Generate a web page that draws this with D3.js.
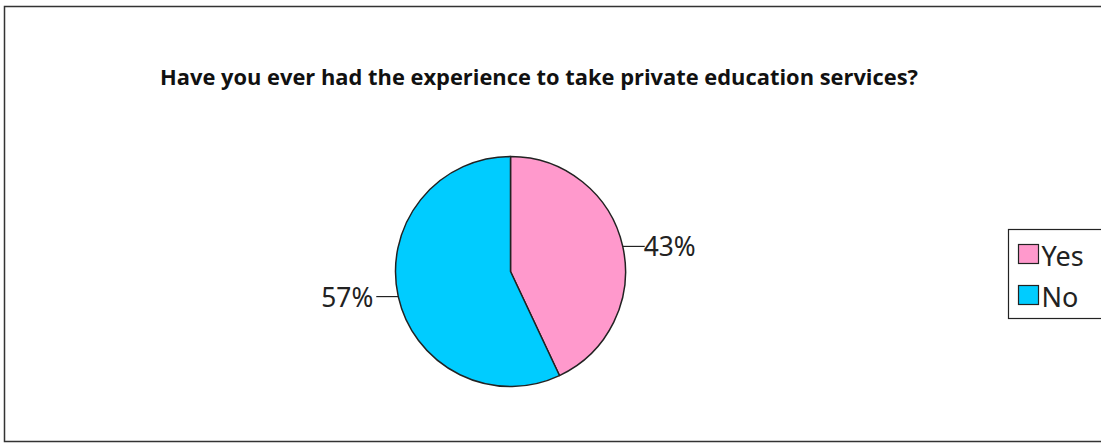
<!DOCTYPE html>
<html>
<head>
<meta charset="utf-8">
<script src="https://cdn.jsdelivr.net/npm/d3@7"></script>
<style>
  body { margin: 0; background: #fff; }
  svg { display: block; }
</style>
</head>
<body>
<div id="chart"></div>
<script>
const title = "Have you ever had the experience to take private education services?";
const categories = ["Yes", "No"];
const values = [43, 57];
const colors = ["#ff99cc", "#00ccff"];

const w = 1101, h = 443;
const cx = 510.5, cy = 271.5, r = 115;

const svg = d3.select("#chart")
    .append("svg")
    .attr("width", w)
    .attr("height", h);

// outer frame (right edge is cut off in the original)
svg.append("path")
    .attr("d", `M1105,6.5 H4.5 V441.5 H1105`)
    .attr("fill", "none")
    .attr("stroke", "#333")
    .attr("stroke-width", 1.5);

svg.append("text")
    .attr("x", 160)
    .attr("y", 85)
    .attr("font-family", "'Open Sans', sans-serif")
    .attr("font-weight", "bold")
    .attr("font-size", 21)
    .attr("textLength", 758)
    .attr("lengthAdjust", "spacingAndGlyphs")
    .attr("fill", "#111")
    .text(title);

const data = categories.map((c, i) => ({name: c, value: values[i], color: colors[i]}));

const pie = d3.pie().sort(null).value(d => d.value);
const arc = d3.arc().innerRadius(0).outerRadius(r);
const arcs = pie(data);

const g = svg.append("g").attr("transform", `translate(${cx},${cy})`);

g.selectAll("path")
    .data(arcs)
    .join("path")
    .attr("d", arc)
    .attr("fill", d => d.data.color)
    .attr("stroke", "#222")
    .attr("stroke-width", 1.5)
    .attr("stroke-linejoin", "round");

// leader lines and percentage labels
const lineLen = 22;
arcs.forEach(d => {
    const mid = (d.startAngle + d.endAngle) / 2;
    const px = Math.sin(mid) * r, py = -Math.cos(mid) * r;
    const right = px > 0;
    const ex = px + (right ? lineLen : -lineLen);
    g.append("line")
        .attr("x1", px).attr("y1", py)
        .attr("x2", ex).attr("y2", py)
        .attr("stroke", "#222")
        .attr("stroke-width", 1.2);
    g.append("text")
        .attr("x", ex + (right ? -1 : -3))
        .attr("y", py + 10)
        .attr("text-anchor", right ? "start" : "end")
        .attr("font-family", "'Noto Sans', sans-serif")
        .attr("font-size", 27)
        .attr("textLength", 52)
        .attr("lengthAdjust", "spacingAndGlyphs")
        .attr("fill", "#222")
        .text(Math.round(d.data.value) + "%");
});

// legend
const legend = svg.append("g").attr("transform", "translate(1008,229)");
legend.append("rect")
    .attr("x", 0.5).attr("y", 0.5)
    .attr("width", 100).attr("height", 89)
    .attr("fill", "#fff")
    .attr("stroke", "#222")
    .attr("stroke-width", 1.2);

const item = legend.selectAll("g.item")
    .data(data)
    .join("g")
    .attr("class", "item")
    .attr("transform", (d, i) => `translate(10.5,${15.5 + i * 41})`);

item.append("rect")
    .attr("width", 20).attr("height", 19)
    .attr("fill", d => d.color)
    .attr("stroke", "#222")
    .attr("stroke-width", 1.2);

item.append("text")
    .attr("x", 23)
    .attr("y", 21)
    .attr("font-family", "'Noto Sans', sans-serif")
    .attr("font-size", 27)
    .attr("fill", "#222")
    .text(d => d.name);
</script>
</body>
</html>
